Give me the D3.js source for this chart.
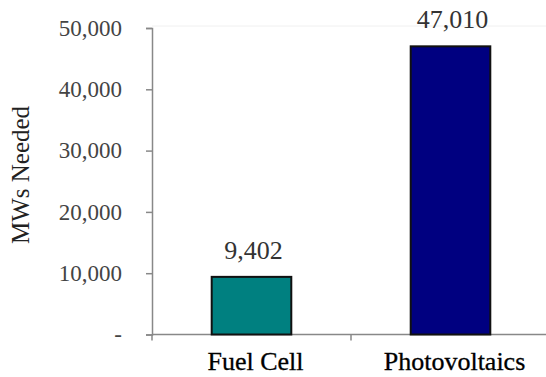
<!DOCTYPE html>
<html><head><meta charset="utf-8">
<script src="https://cdn.jsdelivr.net/npm/d3@7/dist/d3.min.js"></script>
<style>body{margin:0;background:#fff}svg{display:block}text{font-family:"Liberation Serif","Times New Roman",serif}</style>
</head><body><svg id="c" width="546" height="377"></svg>
<script>
const categories = ["Fuel Cell", "Photovoltaics"];
const values = [9402, 47010];
const colors = ["#008080", "#000080"];
const yTicks = [0, 10000, 20000, 30000, 40000, 50000];

const svg = d3.select("#c");
const x = d3.scaleBand().domain(categories).range([152, 550]).paddingInner(0.6).paddingOuter(0.3);
const y = d3.scaleLinear().domain([0, 50000]).range([334.5, 28]);
const fmt = d => d === 0 ? "-" : d3.format(",")(d);

// faint top border
svg.append("line").attr("x1", 152).attr("x2", 546).attr("y1", y(50000) - 2).attr("y2", y(50000) - 2)
  .attr("stroke", "#f0f0f0").attr("stroke-width", 1);

// y axis
const ya = svg.append("g").attr("transform", "translate(152,0)")
  .call(d3.axisLeft(y).tickValues(yTicks).tickFormat(fmt).tickSizeOuter(0).tickSize(6).tickPadding(24));
ya.select(".domain").attr("stroke", "#888").attr("stroke-width", 1.5);
ya.selectAll(".tick line").attr("stroke", "#888").attr("stroke-width", 1.5);
ya.selectAll(".tick text").attr("font-size", 23).attr("fill", "#444")
  .attr("dy", "0.32em");

// x axis
const xa = svg.append("g").attr("transform", `translate(0,${y(0)})`)
  .call(d3.axisBottom(x).tickSize(0).tickPadding(17));
xa.select(".domain").attr("d", `M152,0H546`).attr("stroke", "#888").attr("stroke-width", 1.5);
xa.selectAll(".tick text").attr("font-size", 26).attr("fill", "#000")
  .attr("stroke", "#000").attr("stroke-width", 0.3).attr("dx", 4);
// boundary ticks between categories
const step = x.step();
const bounds = [152, 152 + step];
xa.selectAll(".bt").data(bounds).enter().append("line")
  .attr("x1", d => d).attr("x2", d => d).attr("y1", 0).attr("y2", 6)
  .attr("stroke", "#888").attr("stroke-width", 1.5);

// bars
svg.selectAll(".bar").data(values).enter().append("rect")
  .attr("x", (d, i) => x(categories[i]))
  .attr("width", x.bandwidth())
  .attr("y", d => y(d))
  .attr("height", d => y(0) - y(d))
  .attr("fill", (d, i) => colors[i])
  .attr("stroke", "#111").attr("stroke-width", 2);

// value labels
svg.selectAll(".vl").data(values).enter().append("text")
  .attr("x", (d, i) => x(categories[i]) + x.bandwidth() / 2 + 2)
  .attr("y", d => y(d) - 18)
  .attr("text-anchor", "middle").attr("font-size", 26).attr("fill", "#333")
  .text(d => d3.format(",")(d));

// y title
svg.append("text").attr("transform", "translate(29,175) rotate(-90)")
  .attr("text-anchor", "middle").attr("font-size", 25).attr("fill", "#222")
  .text("MWs Needed");
</script></body></html>
